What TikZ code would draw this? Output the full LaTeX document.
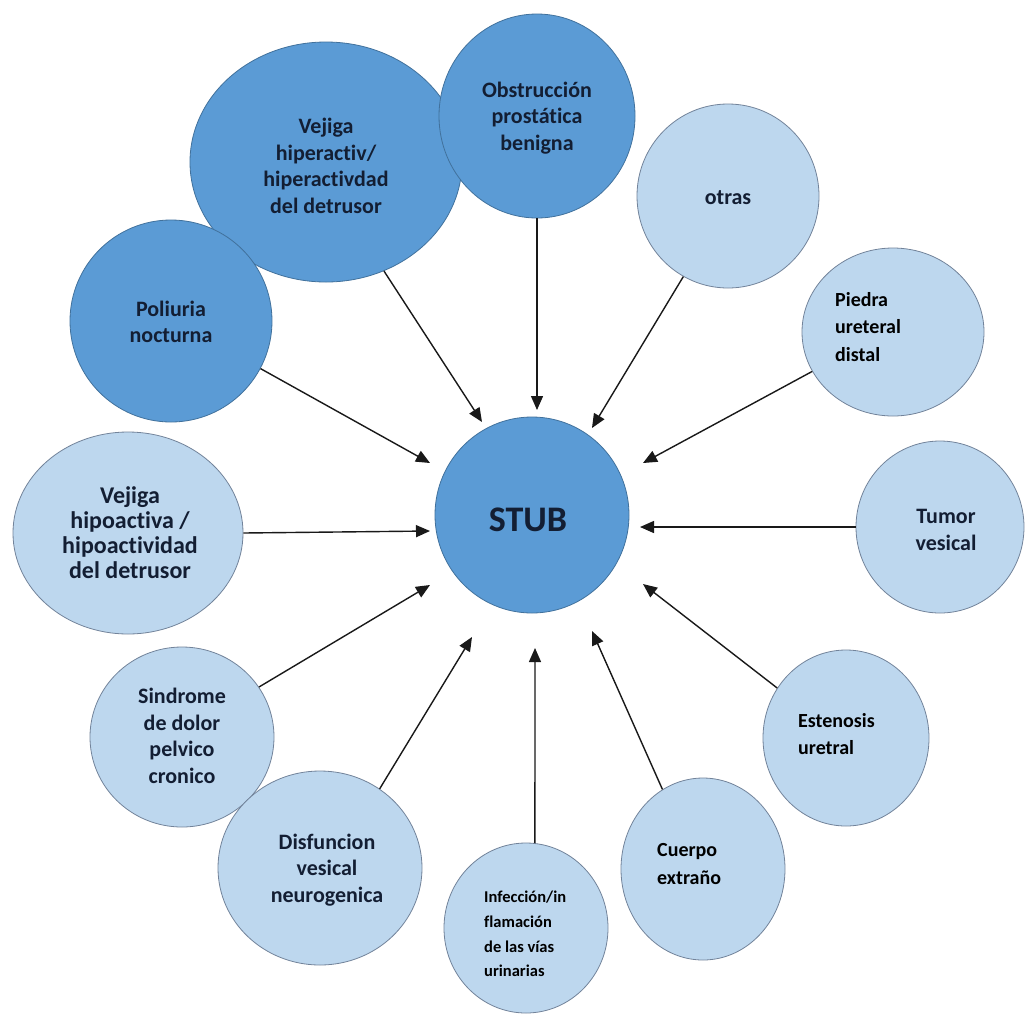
\documentclass[tikz,border=0pt]{standalone}
\usepackage{fontspec}
\setmainfont{Carlito}[Ligatures=NoCommon]
\usetikzlibrary{shapes.geometric,arrows.meta}
\definecolor{darkblue}{HTML}{5B9BD5}
\definecolor{darkline}{HTML}{41719C}
\definecolor{lightblue}{HTML}{BDD7EE}
\definecolor{lightline}{HTML}{72839A}
\definecolor{navy}{HTML}{131E33}
\begin{document}
\begin{tikzpicture}[x=1pt,y=-1pt,
  darkc/.style={ellipse, draw=darkline, fill=darkblue, line width=0.8pt, inner sep=0pt},
  lightc/.style={ellipse, draw=lightline, fill=lightblue, line width=0.8pt, inner sep=0pt},
  ctext/.style={align=center, text=navy, inner sep=0pt, font=\bfseries\fontsize{22}{26.5}\selectfont},
  ltext/.style={align=left, text=black, anchor=west, inner sep=0pt, font=\bfseries\fontsize{20}{27.5}\selectfont},
  arr/.style={-{Triangle[length=14pt,width=12pt]}, line width=1.4pt, draw=black!90}]
\fill[white] (0,0) rectangle (1026,1021);
\useasboundingbox (0,0) rectangle (1026,1021);

% circles
\node[darkc, minimum width=272pt, minimum height=240pt] (vh) at (326,162) {};
\node[darkc, minimum width=196pt, minimum height=204pt] (ob) at (537,116) {};
\node[darkc, minimum width=202pt, minimum height=202pt] (po) at (171,321) {};
\node[lightc, minimum width=182pt, minimum height=184pt] (ot) at (728,196) {};
\node[lightc, minimum width=182pt, minimum height=168pt] (pi) at (893,332) {};
\node[lightc, minimum width=168pt, minimum height=172pt] (tu) at (940,527) {};
\node[lightc, minimum width=230pt, minimum height=202pt] (vo) at (128,533) {};
\node[lightc, minimum width=184pt, minimum height=180pt] (si) at (182,737) {};
\node[lightc, minimum width=204pt, minimum height=194pt] (di) at (320,868) {};
\node[lightc, minimum width=164pt, minimum height=170pt] (in) at (526,928) {};
\node[lightc, minimum width=164pt, minimum height=182pt] (cu) at (703,869) {};
\node[lightc, minimum width=166pt, minimum height=176pt] (es) at (846,738) {};
\node[darkc, minimum width=194pt, minimum height=196pt] (stub) at (532,515) {};

% texts
\node[ctext] (vht) at (326,166) {Vejiga\\hiperactiv/\\hiperactivdad\\del detrusor};
\node[ctext] (obt) at (537,118) {Obstrucción\\prostática\\benigna};
\node[ctext] (pot) at (171,322) {Poliuria\\nocturna};
\node[ctext] (ott) at (728,198) {otras};
\node[ctext] (tut) at (946,530) {Tumor\\vesical};
\node[ctext, font=\bfseries\fontsize{24}{25}\selectfont] (vot) at (130,533) {Vejiga\\hipoactiva /\\hipoactividad\\del detrusor};
\node[ctext] (sit) at (182,736) {Sindrome\\de dolor\\pelvico\\cronico};
\node[ctext] (dit) at (327,870) {Disfuncion\\vesical\\neurogenica};
\node[ctext, font=\bfseries\fontsize{36}{40}\selectfont] (stubt) at (528,520) {STUB};
\node[ltext] (pit) at (835,327) {Piedra\\ureteral\\distal};
\node[ltext] (est) at (798,734) {Estenosis\\uretral};
\node[ltext] (cut) at (657,864) {Cuerpo\\extraño};
\node[ltext, font=\bfseries\fontsize{16.5}{24.7}\selectfont] (intx) at (484,934) {Infección/in\\flamación\\de las vías\\urinarias};

% arrow tips
\coordinate (tvh) at (482,422);
\coordinate (tob) at (537,410);
\coordinate (tpo) at (430,463);
\coordinate (tot) at (592,428);
\coordinate (tpi) at (643,463);
\coordinate (ttu) at (640,527);
\coordinate (tvo) at (430,531);
\coordinate (tsi) at (430,585);
\coordinate (tdi) at (472,637);
\coordinate (tin) at (535,648);
\coordinate (tcu) at (592,631);
\coordinate (tes) at (643,584);

% arrows
\draw[arr] (vh.-62.8) -- (tvh);
\draw[arr] (ob.south) -- (tob);
\draw[arr] (po.-28.6) -- (tpo);
\draw[arr] (ot.-119.3) -- (tot);
\draw[arr] (pi.-154.3) -- (tpi);
\draw[arr] (tu.west) -- (ttu);
\draw[arr] (vo.east) -- (tvo);
\draw[arr] (si.33.7) -- (tsi);
\draw[arr] (di.53.5) -- (tdi);
\draw[arr] (in.84) -- (tin);
\draw[arr] (cu.117.1) -- (tcu);
\draw[arr] (es.144) -- (tes);
\end{tikzpicture}
\end{document}
